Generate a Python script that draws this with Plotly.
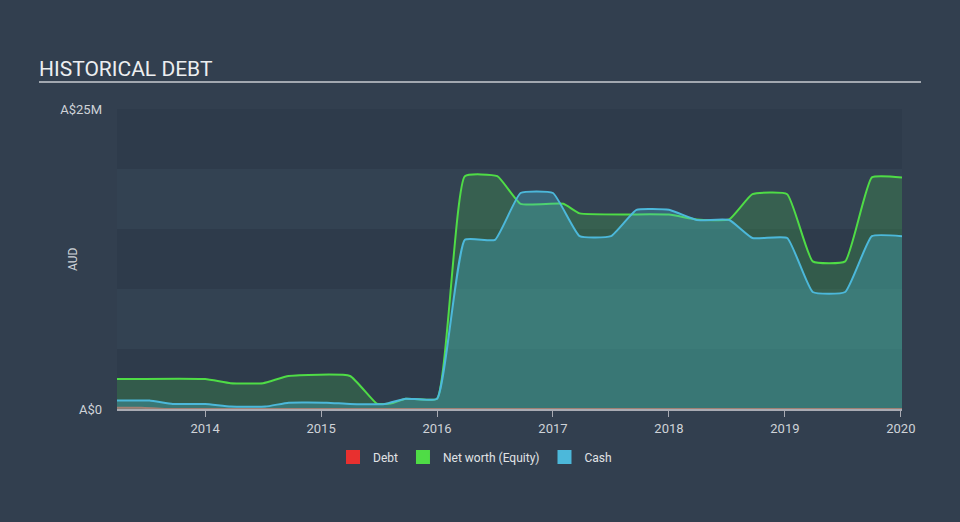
import plotly.graph_objects as go

# ---- data (decimal years, values in A$ millions) ----
debt_x = [2013.24, 2013.45, 2013.65, 2014.0, 2020.01]
debt_y = [0.1, 0.1, 0.0, 0.0, 0.0]

equity_x = [2013.24, 2014.0, 2014.22, 2014.5, 2014.72, 2015.25, 2015.48, 2015.6,
            2015.73, 2016.0, 2016.24, 2016.52, 2016.72, 2017.09, 2017.23, 2018.0,
            2018.24, 2018.52, 2018.72, 2019.02, 2019.24, 2019.52, 2019.75, 2020.01]
equity_y = [2.5, 2.5, 2.15, 2.15, 2.75, 2.75, 0.45, 0.45,
            0.86, 0.86, 19.4, 19.4, 17.1, 17.1, 16.3, 16.2,
            15.8, 15.8, 17.9, 17.9, 12.3, 12.3, 19.3, 19.3]

cash_x = [2013.24, 2013.52, 2013.72, 2014.0, 2014.22, 2014.52, 2014.72, 2015.05,
          2015.25, 2015.55, 2015.73, 2016.0, 2016.24, 2016.5, 2016.72, 2017.0,
          2017.23, 2017.5, 2017.72, 2018.0, 2018.24, 2018.52, 2018.72, 2019.02,
          2019.24, 2019.52, 2019.75, 2020.01]
cash_y = [0.7, 0.7, 0.42, 0.42, 0.2, 0.2, 0.53, 0.53,
          0.42, 0.42, 0.86, 0.86, 14.1, 14.1, 18.0, 18.0,
          14.4, 14.4, 16.6, 16.6, 15.75, 15.75, 14.25, 14.25,
          9.75, 9.75, 14.4, 14.4]

year_ticks = [2014, 2015, 2016, 2017, 2018, 2019, 2020]
y_ticks = [0, 25]
y_ticktext = ["A$0", "A$25M"]
band_edges = [0, 5, 10, 15, 20, 25]

fig = go.Figure()

SM = 0.4
fig.add_trace(go.Scatter(x=debt_x, y=debt_y, mode="lines", fill="tozeroy",
                         line=dict(color="#e64a4a", width=2, shape="spline", smoothing=SM),
                         fillcolor="rgba(230,60,60,0.3)", showlegend=False, hoverinfo="skip"))
fig.add_trace(go.Scatter(x=equity_x, y=equity_y, mode="lines", fill="tozeroy",
                         line=dict(color="#4fdc46", width=2, shape="spline", smoothing=SM),
                         fillcolor="rgba(77,221,74,0.2)", showlegend=False, hoverinfo="skip"))
fig.add_trace(go.Scatter(x=cash_x, y=cash_y, mode="lines", fill="tozeroy",
                         line=dict(color="#4cb8da", width=2, shape="spline", smoothing=SM),
                         fillcolor="rgba(74,184,216,0.3)", showlegend=False, hoverinfo="skip"))

# legend swatches
for name, col in [("Debt", "#e8302f"), ("Net worth (Equity)", "#4fdc46"), ("Cash", "#4cb8da")]:
    fig.add_trace(go.Scatter(x=[None], y=[None], mode="markers", name=name,
                             marker=dict(symbol="square", size=14, color=col)))

shapes = []
band_cols = ["#2e3b4b", "#334252"]
for i in range(len(band_edges) - 1):
    shapes.append(dict(type="rect", xref="paper", yref="y", x0=0, x1=1,
                       y0=band_edges[i], y1=band_edges[i + 1],
                       fillcolor=band_cols[i % 2], line=dict(width=0), layer="below"))
# title underline
shapes.append(dict(type="line", xref="paper", yref="paper",
                   x0=(39 - 117) / 785, x1=(921 - 117) / 785,
                   y0=(409 - 82) / 300, y1=(409 - 82) / 300,
                   line=dict(color="#c9ccd1", width=1.5)))

fig.update_layout(
    width=960, height=522,
    margin=dict(l=117, r=58, t=109, b=113),
    paper_bgcolor="#323f4f",
    plot_bgcolor="#2e3b4b",
    font=dict(family="Roboto", color="#cfd3d8", size=13),
    title=dict(text="HISTORICAL DEBT", x=39 / 960, xanchor="left",
               y=1 - 69 / 522, yanchor="middle",
               font=dict(size=21, color="#eceef0", family="Roboto")),
    shapes=shapes,
    showlegend=True,
    legend=dict(orientation="h", x=(475 - 117) / 785, xanchor="center", y=-0.16,
                yanchor="middle", itemwidth=30,
                font=dict(size=12, color="#e0e3e6"), bgcolor="rgba(0,0,0,0)",
                itemclick=False),
    annotations=[dict(text="AUD", textangle=-90, x=(64 - 117) / 785, y=0.5,
                      xref="paper", yref="paper", showarrow=False,
                      font=dict(size=12, color="#cfd3d8"))],
)
fig.update_xaxes(range=[2013.24, 2020.01], tickvals=year_ticks,
                 ticktext=[str(t) for t in year_ticks],
                 showgrid=False, zeroline=False, showline=True, linecolor="#a9abb3",
                 linewidth=2, ticks="outside", ticklen=6, tickcolor="#a9abb3",
                 tickfont=dict(size=13, color="#cfd3d8"))
fig.update_yaxes(range=[0, 25], tickvals=y_ticks, ticktext=y_ticktext,
                 showgrid=False, zeroline=False, showline=False, ticks="",
                 ticklabelstandoff=14,
                 tickfont=dict(size=13, color="#cfd3d8"))

fig.write_html("out.html")
